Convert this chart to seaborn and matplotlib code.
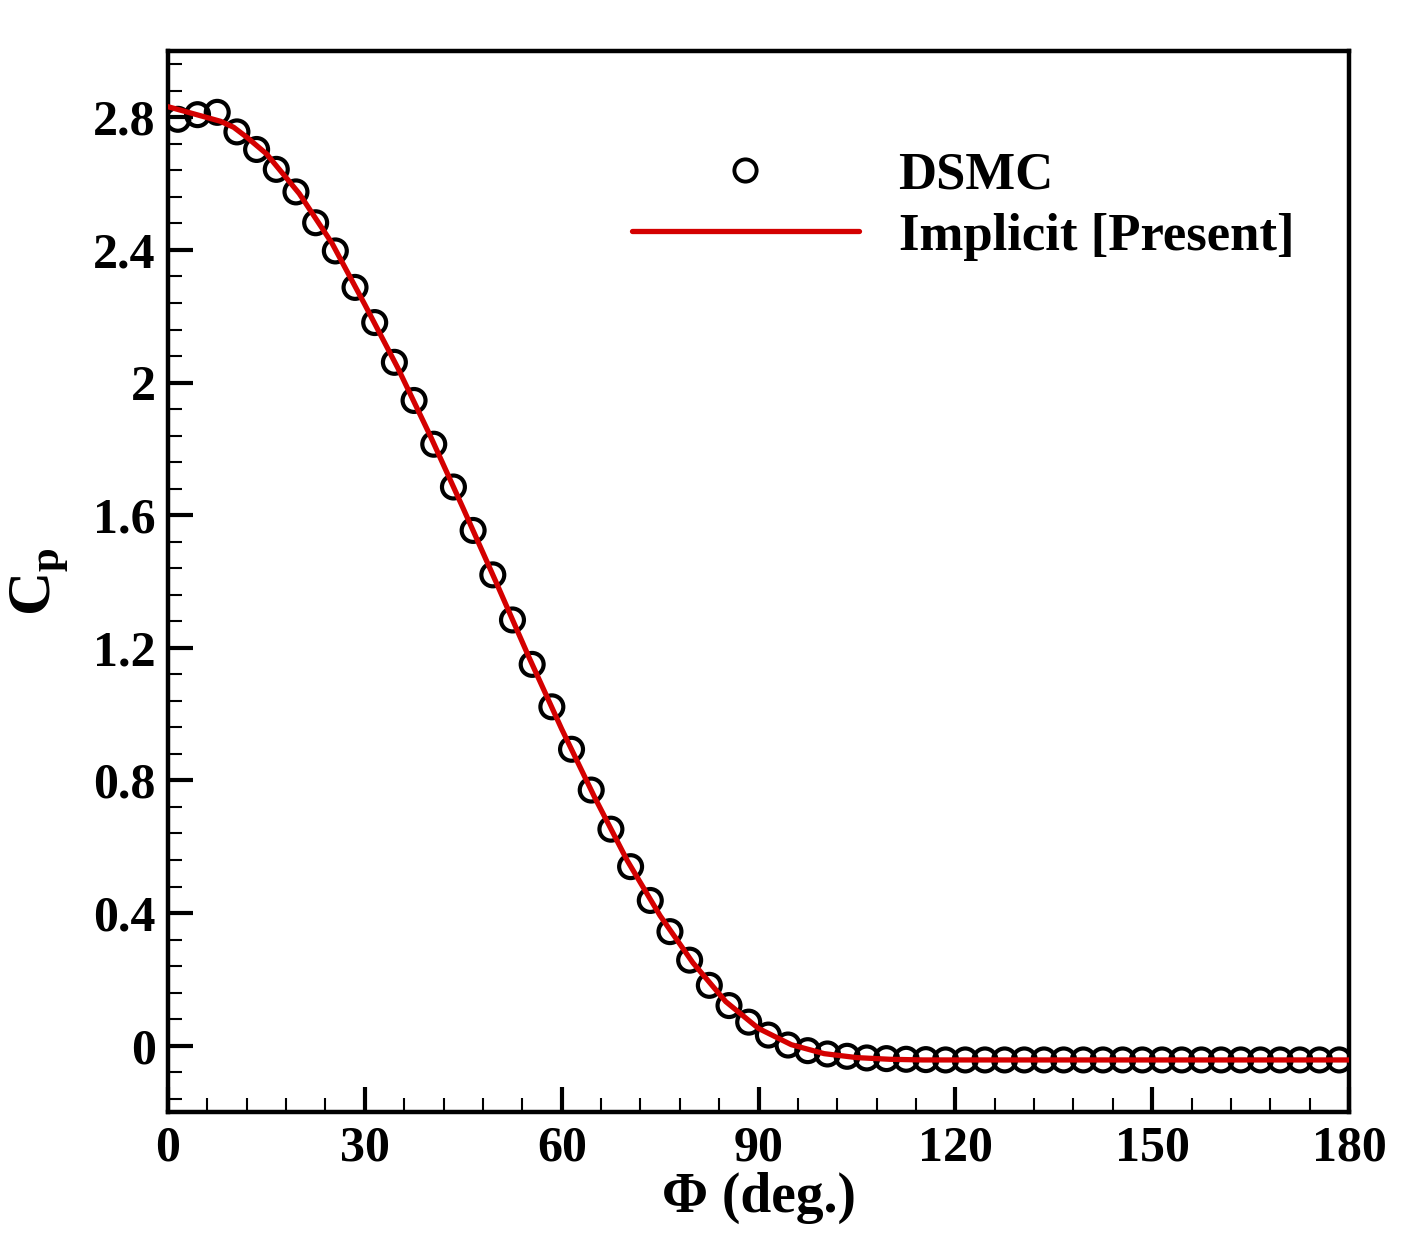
import matplotlib
matplotlib.use("Agg")
import matplotlib.pyplot as plt
import seaborn as sns
from matplotlib.ticker import MultipleLocator, FuncFormatter
from matplotlib.lines import Line2D

# DSMC data
phi_dsmc = [1.5 + 3 * i for i in range(60)]
cp_dsmc = [2.794, 2.808, 2.815, 2.756, 2.703, 2.643, 2.575, 2.482, 2.397, 2.287,
           2.181, 2.061, 1.946, 1.814, 1.685, 1.554, 1.420, 1.284, 1.150, 1.022,
           0.894, 0.771, 0.653, 0.540, 0.438, 0.344, 0.258, 0.182, 0.121, 0.071,
           0.032, 0.002, -0.015, -0.025, -0.032, -0.037, -0.039, -0.041, -0.042, -0.043,
           -0.043, -0.043, -0.043, -0.043, -0.043, -0.043, -0.043, -0.043, -0.043, -0.043,
           -0.043, -0.043, -0.043, -0.043, -0.043, -0.043, -0.043, -0.043, -0.043, -0.043]

# implicit solver curve
phi_line = [0, 8, 10, 12, 15, 20, 25, 30, 35, 40, 45, 50, 55, 60, 65, 70, 75, 80,
            85, 90, 95, 100, 105, 110, 115, 120, 150, 180]
cp_line = [2.832, 2.788, 2.770, 2.740, 2.690, 2.570, 2.420, 2.235, 2.045, 1.838,
           1.620, 1.398, 1.172, 0.955, 0.750, 0.558, 0.392, 0.250, 0.133, 0.052,
           0.003, -0.024, -0.036, -0.041, -0.043, -0.043, -0.043, -0.043]

sns.set_theme(style="ticks")
plt.rcParams["font.family"] = ["Liberation Serif", "DejaVu Serif"]
plt.rcParams["font.weight"] = "bold"
plt.rcParams["mathtext.fontset"] = "custom"
plt.rcParams["mathtext.rm"] = "Liberation Serif:bold"
for k in ["text.color", "axes.labelcolor", "xtick.color", "ytick.color", "axes.edgecolor"]:
    plt.rcParams[k] = "black"

fig = plt.figure(figsize=(14.06, 12.5), dpi=100)
ax = fig.add_axes([0.1195, 0.1104, 0.84, 0.8488])

sns.scatterplot(x=phi_dsmc, y=cp_dsmc, ax=ax, marker="o", s=16.5 ** 2,
                facecolor="none", edgecolor="black", linewidth=3.0, zorder=2)
sns.lineplot(x=phi_line, y=cp_line, ax=ax, color="#d40000", linewidth=3.8,
             zorder=3, sort=False)

ax.set_xlim(0, 180)
ax.set_ylim(-0.2, 3.0)
ax.xaxis.set_major_locator(MultipleLocator(30))
ax.xaxis.set_minor_locator(MultipleLocator(6))
ax.set_yticks([0, 0.4, 0.8, 1.2, 1.6, 2.0, 2.4, 2.8])
ax.yaxis.set_minor_locator(MultipleLocator(0.08))
ax.yaxis.set_major_formatter(FuncFormatter(lambda v, p: "%g" % round(v, 2)))

ax.tick_params(which="major", direction="in", length=18, width=3,
               labelsize=36, color="black", labelcolor="black")
ax.tick_params(which="minor", direction="in", length=10, width=1.5, color="black")
ax.tick_params(axis="y", which="both", pad=9)
ax.tick_params(axis="x", which="both", pad=10)
for lab in ax.get_xticklabels() + ax.get_yticklabels():
    lab.set_fontweight("bold")

for s in ax.spines.values():
    s.set_visible(True)
    s.set_linewidth(3.2)
    s.set_color("black")

ax.set_xlabel("Φ (deg.)", fontsize=40, fontweight="bold", labelpad=0, color="black")
ax.set_ylabel(r"C$_\mathregular{p}$", fontsize=44, fontweight="bold", labelpad=16,
              color="black")

handles = [
    Line2D([], [], marker="o", linestyle="none", markersize=16,
           markerfacecolor="none", markeredgecolor="black", markeredgewidth=2.8),
    Line2D([], [], color="#d40000", linewidth=3.8),
]
leg = ax.legend(handles, ["DSMC", "Implicit [Present]"], loc="upper left",
                bbox_to_anchor=(0.3705, 0.93), frameon=False, borderpad=0,
                handlelength=4.3, handletextpad=0.75, labelspacing=0.25,
                prop={"family": "Liberation Serif", "weight": "bold", "size": 38})
for t in leg.get_texts():
    t.set_color("black")

fig.savefig("out.png", dpi=100)
